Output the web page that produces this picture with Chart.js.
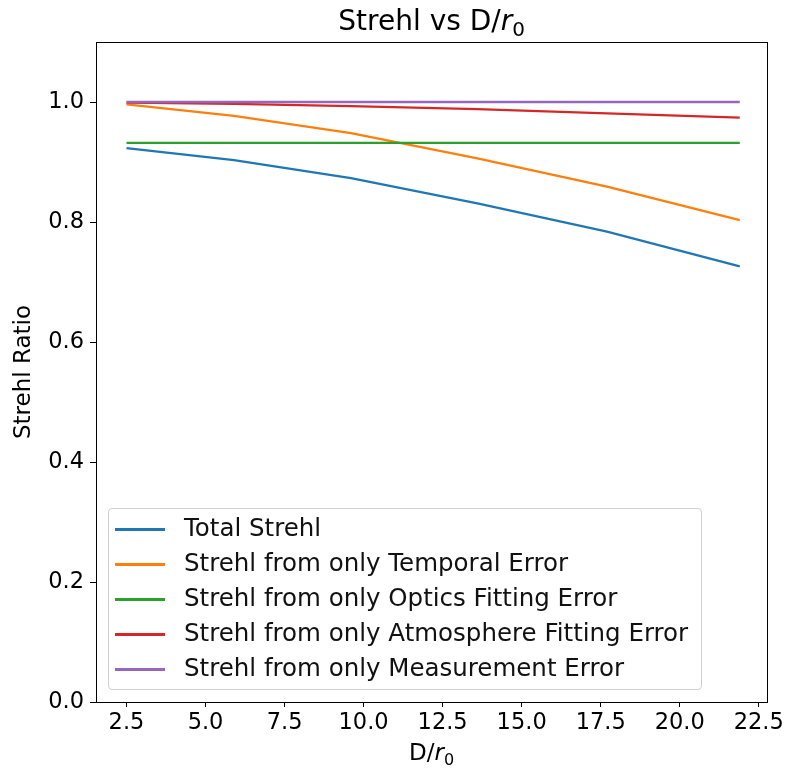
<!DOCTYPE html>
<html>
<head>
<meta charset="utf-8">
<script src="https://cdn.jsdelivr.net/npm/chart.js@4"></script>
<style>
  body { margin: 0; background: #fff; }
  #wrap { position: relative; width: 787px; height: 772px; }
  #legend {
    position: absolute; left: 108px; top: 508px; width: 594px; height: 182px;
    border: 1px solid #d0d0d0; border-radius: 4px; background: rgba(255,255,255,0.8);
    font-family: "DejaVu Sans"; font-size: 24.5px; color: #111; box-sizing: border-box;
    padding-top: 1px;
  }
  .row { height: 35px; line-height: 35px; white-space: nowrap; }
  .swatch { display: inline-block; width: 50px; height: 3px; margin: 0 19px 0 6px; vertical-align: middle; }
</style>
</head>
<body>
<div id="wrap">
  <canvas id="c" width="787" height="772"></canvas>
  <div id="legend"></div>
</div>
<script>
// data
var dr0 = [2.5, 5.9, 9.6, 13.6, 17.7, 21.9];
var totalStrehl = [0.923, 0.903, 0.873, 0.831, 0.784, 0.726];
var temporal = [0.996, 0.977, 0.948, 0.906, 0.859, 0.803];
var optics = [0.932, 0.932, 0.932, 0.932, 0.932, 0.932];
var atmosphere = [0.999, 0.997, 0.993, 0.988, 0.981, 0.974];
var measurement = [1.0, 1.0, 1.0, 1.0, 1.0, 1.0];
var xTicks = [2.5, 5.0, 7.5, 10.0, 12.5, 15.0, 17.5, 20.0, 22.5];
var yTicks = [0.0, 0.2, 0.4, 0.6, 0.8, 1.0];

var names = ['Total Strehl', 'Strehl from only Temporal Error', 'Strehl from only Optics Fitting Error',
             'Strehl from only Atmosphere Fitting Error', 'Strehl from only Measurement Error'];
var colors = ['#1f77b4', '#ff7f0e', '#2ca02c', '#d62728', '#9467bd'];
var series = [totalStrehl, temporal, optics, atmosphere, measurement];

function pts(ys){
    var out = [];
    for(var i=0;i<dr0.length;i++){ out.push({x:dr0[i], y:ys[i]}); }
    return out;
}

var datasets = [];
for(var i=0;i<series.length;i++){
    datasets.push({
        label: names[i],
        data: pts(series[i]),
        borderColor: colors[i],
        backgroundColor: colors[i],
        borderWidth: 2.3,
        pointRadius: 0,
        tension: 0,
        order: series.length - i
    });
}

// text like "D/r0" with italic r and subscript 0, centred on cx
function mathText(ctx, pre, size, cx, base){
    var f = '"DejaVu Sans"';
    ctx.font = size+'px '+f;
    var w1 = ctx.measureText(pre).width;
    ctx.font = 'italic '+size+'px '+f;
    var w2 = ctx.measureText('r').width;
    ctx.font = Math.round(size*0.7)+'px '+f;
    var w3 = ctx.measureText('0').width;
    var x = cx - (w1+w2+w3)/2;
    ctx.textBaseline = 'alphabetic';
    ctx.textAlign = 'left';
    ctx.font = size+'px '+f;
    ctx.fillText(pre, x, base);
    ctx.font = 'italic '+size+'px '+f;
    ctx.fillText('r', x+w1, base);
    ctx.font = Math.round(size*0.7)+'px '+f;
    ctx.fillText('0', x+w1+w2, base+size*0.2);
}

// frame round the plot and the two math labels
var frame = {
    id: 'frame',
    afterDraw: function(chart){
        var a = chart.chartArea, ctx = chart.ctx;
        ctx.save();
        ctx.strokeStyle = '#000';
        ctx.lineWidth = 1;
        ctx.strokeRect(Math.round(a.left)+0.5, Math.round(a.top)+0.5, Math.round(a.right-a.left), Math.round(a.bottom-a.top));
        ctx.fillStyle = '#000';
        var cx = (a.left+a.right)/2;
        mathText(ctx, 'Strehl vs D/', 28, cx, 30);
        mathText(ctx, 'D/', 23, cx, 760);
        ctx.restore();
    }
};

var font = { family: 'DejaVu Sans', size: 22.5 };

var chart = new Chart(document.getElementById('c'), {
    type: 'line',
    data: { datasets: datasets },
    plugins: [frame],
    options: {
        responsive: false,
        animation: false,
        layout: { padding: { left: 0, right: 16, top: 42, bottom: 0 } },
        plugins: {
            legend: { display: false },
            tooltip: { enabled: false },
            title: { display: false }
        },
        scales: {
            x: {
                type: 'linear',
                min: 1.535, max: 22.77,
                afterBuildTicks: function(s){ s.ticks = xTicks.map(function(v){ return {value:v}; }); },
                afterFit: function(s){ s.height = 70; },
                grid: { drawOnChartArea: false, drawTicks: true, tickLength: 5, color: '#000' },
                border: { display: true, color: '#000' },
                ticks: { color: '#000', font: font, padding: 3, maxRotation: 0,
                         callback: function(v){ return v.toFixed(1); } }
            },
            y: {
                min: 0, max: 1.1,
                afterBuildTicks: function(s){ s.ticks = yTicks.map(function(v){ return {value:v}; }); },
                afterFit: function(s){ s.width = 96; },
                grid: { drawOnChartArea: false, drawTicks: true, tickLength: 6, color: '#000' },
                border: { display: true, color: '#000' },
                ticks: { color: '#000', font: font, padding: 6,
                         callback: function(v){ return v.toFixed(1); } },
                title: { display: true, text: 'Strehl Ratio', color: '#000',
                         font: { family: 'DejaVu Sans', size: 23 }, padding: { top: 10, bottom: 0 } }
            }
        }
    }
});

// legend inside the axes, built from the datasets
var lg = document.getElementById('legend');
chart.data.datasets.forEach(function(ds){
    lg.insertAdjacentHTML('beforeend', '<div class="row"><span class="swatch" style="background:'+ds.borderColor+'"></span>'+ds.label+'</div>');
});
</script>
</body>
</html>
